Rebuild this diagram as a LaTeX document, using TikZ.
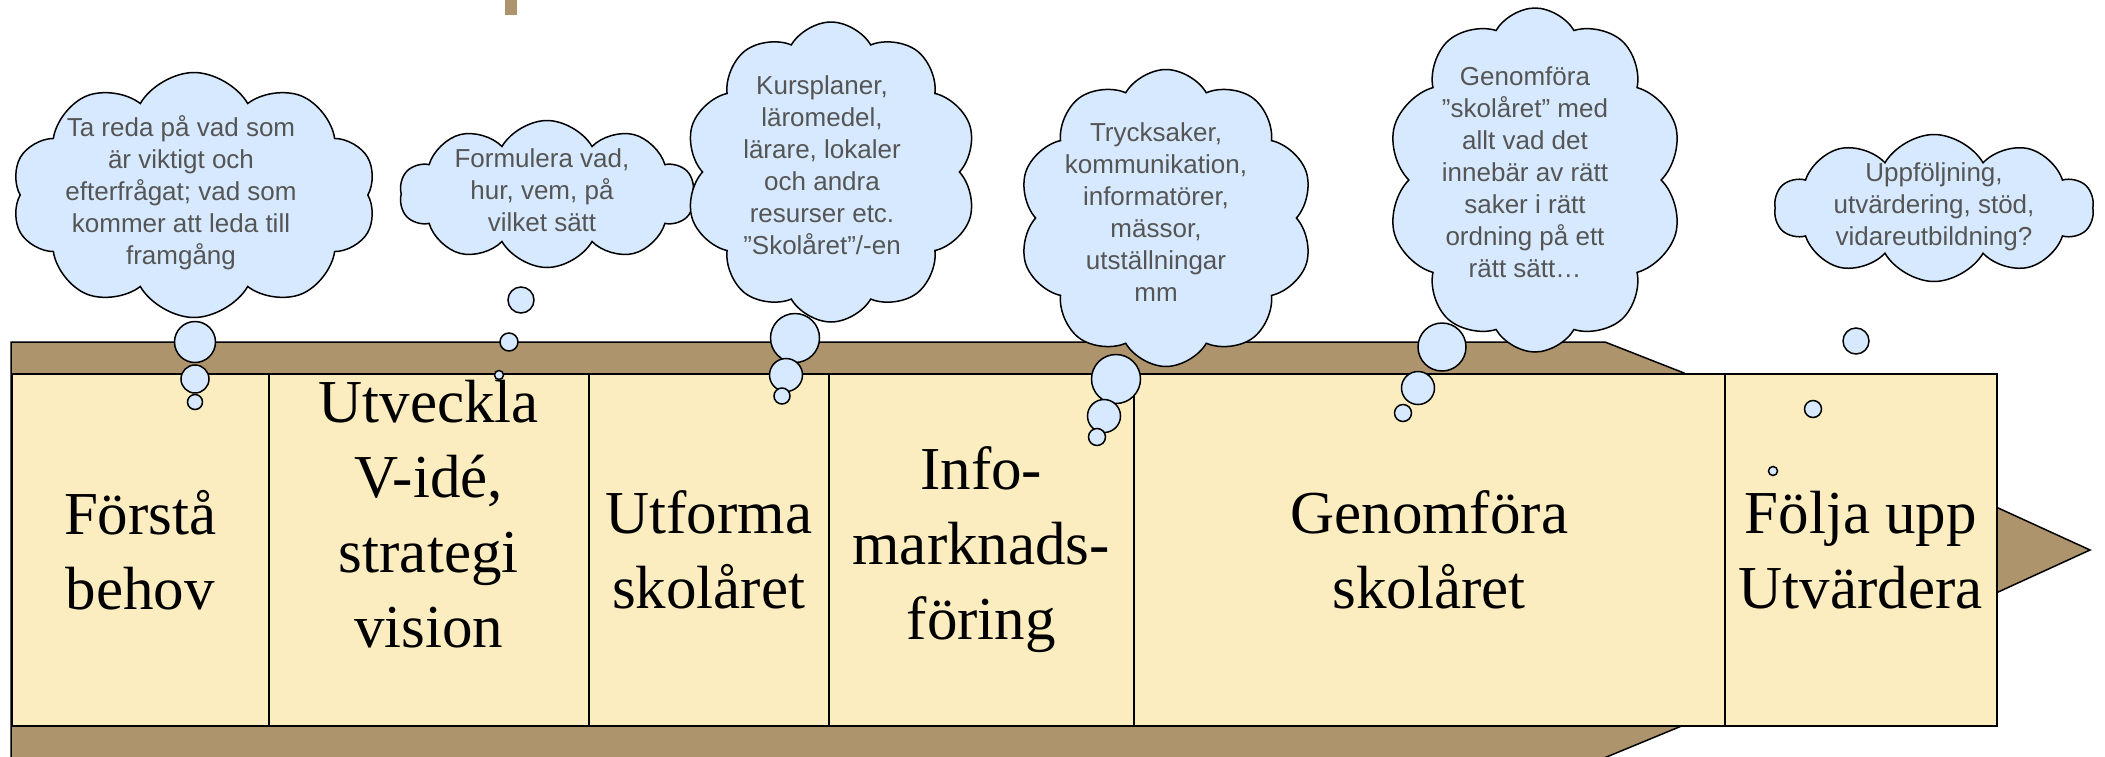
\documentclass[tikz,border=0pt]{standalone}
\usepackage{fontspec}
\setmainfont{Liberation Serif}
\newfontfamily\bubblefont{Liberation Sans}
\usetikzlibrary{shapes.symbols}
\definecolor{bandbrown}{RGB}{174,148,108}
\definecolor{stagecream}{RGB}{252,237,192}
\definecolor{cloudblue}{RGB}{214,233,255}
\definecolor{cloudtext}{RGB}{85,85,85}
\tikzset{
  stage/.style={draw, fill=stagecream, line width=1.5pt, anchor=north west,
    minimum height=352pt, inner sep=0pt, align=center,
    font=\fontsize{61}{75}\selectfont},
  stagetext/.style={align=center, inner sep=0pt, font=\fontsize{61}{75}\selectfont},
  thought/.style={cloud, cloud puffs=10, cloud puff arc=120, cloud ignores aspect,
    draw, line width=1.5pt, fill=cloudblue, inner sep=0pt},
  thoughttext/.style={align=center, inner sep=0pt, text=cloudtext,
    font=\bubblefont\fontsize{26}{32}\selectfont},
  bubble/.style={circle, draw, line width=1.5pt, fill=cloudblue, inner sep=0pt}
}
\begin{document}
\begin{tikzpicture}[x=1pt, y=-1pt]
      \useasboundingbox (0,0) rectangle (2105,756);
      \fill[bandbrown] (505,0) rectangle (517,15);
      \draw[fill=bandbrown, line width=1.5pt]
        (11,342) -- (1605,342) -- (1684,373) -- (1684,725) -- (1575,770) -- (11,770) -- cycle;
      \draw[fill=bandbrown, line width=1.5pt] (1996,507) -- (2090,550) -- (1996,593) -- cycle;
      \node[stage, minimum width=257pt] (forsta) at (11,373) {Förstå\\behov};
      \node[stage, minimum width=320pt] (utveckla) at (268,373) {};
      \node[stagetext, anchor=north] (utvecklatext) at ([yshift=-7pt]utveckla.north)
        {Utveckla\\V-idé,\\strategi\\vision};
      \node[stage, minimum width=240pt] (utforma) at (588,373) {Utforma\\skolåret};
      \node[stage, minimum width=305pt] (info) at (828,373) {Info-\\marknads-\\föring};
      \node[stage, minimum width=591pt] (genomfora) at (1133,373) {Genomföra\\skolåret};
      \node[stage, minimum width=272pt] (folja) at (1724,373) {Följa upp\\Utvärdera};
      \node[thought, minimum width=365pt, minimum height=245pt] (behovmoln) at (194,195) {};
      \node[thoughttext] (behovtext) at (181,193)
        {Ta reda på vad som\\är viktigt och\\efterfrågat; vad som\\kommer att leda till\\framgång};
      \node[thought, minimum width=295pt, minimum height=147pt] (visionmoln) at (547,194) {};
      \node[thoughttext] (visiontext) at (542,190) {Formulera vad,\\hur, vem, på\\vilket sätt};
      \node[thought, minimum width=292pt, minimum height=300pt] (kursmoln) at (831,172) {};
      \node[thoughttext] (kurstext) at (822,165)
        {Kursplaner,\\läromedel,\\lärare, lokaler\\och andra\\resurser etc.\\”Skolåret”/-en};
      \node[thought, minimum width=295pt, minimum height=297pt] (infomoln) at (1166,218) {};
      \node[thoughttext] (infotext) at (1156,212)
        {Trycksaker,\\kommunikation,\\informatörer,\\mässor,\\utställningar\\mm};
      \node[thought, minimum width=296pt, minimum height=344pt] (genommoln) at (1535,180) {};
      \node[thoughttext] (genomtext) at (1525,172)
        {Genomföra\\”skolåret” med\\allt vad det\\innebär av rätt\\saker i rätt\\ordning på ett\\rätt sätt…};
      \node[thought, minimum width=319pt, minimum height=147pt] (uppfoljmoln) at (1934,208) {};
      \node[thoughttext] (uppfoljtext) at (1934,207)
        {Uppföljning,\\utvärdering, stöd,\\vidareutbildning?};
      \foreach \bx/\by/\bd [count=\i] in {195/342/41, 195/379/28, 195/402/15,
          521/300/26, 509/342/18, 499/375/9,
          795/338/49, 786/375/33, 782/396/16,
          1116/379/49, 1104/416/33, 1097/437/17,
          1442/347/48, 1418/388/33, 1403/413/17,
          1856/341/26, 1813/409/17, 1773/471/9}
        \node[bubble, minimum size=\bd pt] (bubble\i) at (\bx,\by) {};
\end{tikzpicture}
\end{document}
